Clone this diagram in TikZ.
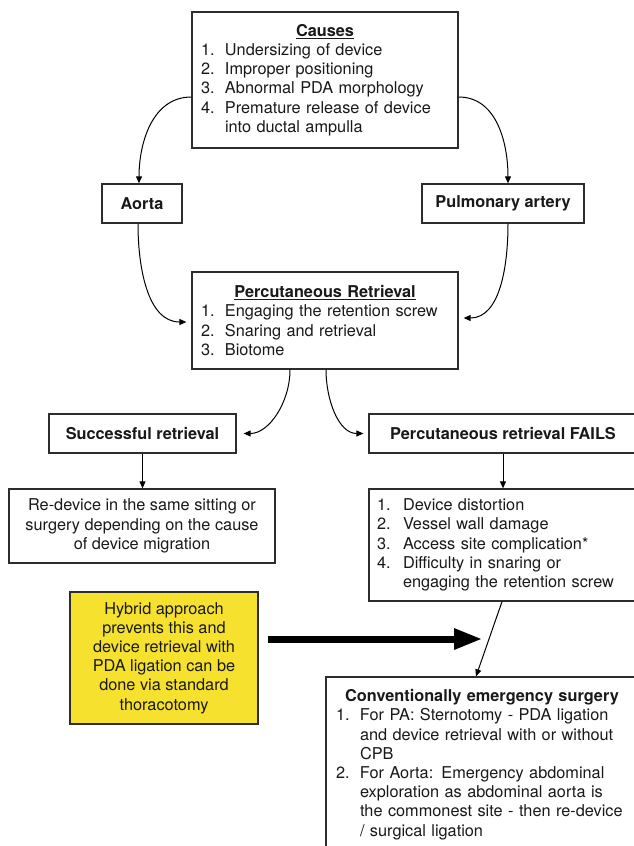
\documentclass[tikz,border=0pt]{standalone}
\usepackage{fontspec}
\setmainfont{TeX Gyre Heros}
\usetikzlibrary{arrows.meta}
\definecolor{boxline}{RGB}{45,45,45}
\definecolor{hyb}{RGB}{246,226,46}
\definecolor{txt}{RGB}{25,25,25}
\newcommand{\itm}[3][24pt]{\makebox[#1][l]{#2.}#3}
\newcommand{\cnt}[2][24pt]{\hspace*{#1}#2}
\begin{document}
\begin{tikzpicture}[x=1pt,y=-1pt,
  every node/.style={font=\fontsize{16.3}{19.2}\selectfont, text=txt},
  box/.style={draw=boxline, line width=1.3pt, inner sep=0pt},
  conn/.style={draw=black, line width=1pt, -{Triangle[length=7pt,width=6pt]}},
  connsh/.style={conn, shorten >=5pt}]
\clip (0,0) rectangle (634,846);
\fill[white] (0,0) rectangle (634,846);

\node[box, minimum width=266pt, minimum height=136pt, text width=248pt, align=left] (causes) at (325,80)
 {\makebox[248pt]{\bfseries\underline{Causes}}\\
  \itm{1}{Undersizing of device}\\
  \itm{2}{Improper positioning}\\
  \itm{3}{Abnormal PDA morphology}\\
  \itm{4}{Premature release of device}\\
  \cnt{into ductal ampulla}};

\node[box, minimum width=80pt, minimum height=39pt, font=\fontsize{16.3}{19.2}\selectfont\bfseries] (aorta) at (142,203.5) {Aorta};
\node[box, minimum width=162pt, minimum height=39pt, font=\fontsize{16.3}{19.2}\selectfont\bfseries] (pa) at (503,203.5) {Pulmonary artery};

\node[box, minimum width=266pt, minimum height=97pt, text width=248pt, align=left] (perc) at (325,320.5)
 {\makebox[248pt]{\bfseries\underline{Percutaneous Retrieval}}\\
  \itm{1}{Engaging the retention screw}\\
  \itm{2}{Snaring and retrieval}\\
  \itm{3}{Biotome}};

\node[box, minimum width=187pt, minimum height=39pt, font=\fontsize{16.3}{19.2}\selectfont\bfseries] (succ) at (142.5,433.5) {Successful retrieval};
\node[box, minimum width=268pt, minimum height=39pt, font=\fontsize{16.3}{19.2}\selectfont\bfseries] (fails) at (503,433.5) {Percutaneous retrieval FAILS};

\node[box, minimum width=266pt, minimum height=74pt, align=center] (relist) at (142,526)
 {Re-device in the same sitting or\\
  surgery depending on the cause\\
  of device migration};

\node[box, minimum width=268pt, minimum height=112pt, text width=252pt, align=left] (failist) at (503,545)
 {\itm[26pt]{1}{Device distortion}\\
  \itm[26pt]{2}{Vessel wall damage}\\
  \itm[26pt]{3}{Access site complication*}\\
  \itm[26pt]{4}{Difficulty in snaring or}\\
  \cnt[26pt]{engaging the retention screw}};

\node[box, fill=hyb, minimum width=188pt, minimum height=132pt, align=center] (hybrid) at (164,658)
 {Hybrid approach\\
  prevents this and\\
  device retrieval with\\
  PDA ligation can be\\
  done via standard\\
  thoracotomy};

\node[box, minimum width=312pt, minimum height=175pt, text width=292pt, align=left] (conv) at (482,764.5)
 {\makebox[292pt]{\bfseries Conventionally emergency surgery}\\
  \itm{1}{For PA: Sternotomy - PDA ligation}\\
  \cnt{and device retrieval with or without}\\
  \cnt{CPB}\\
  \itm{2}{For Aorta: Emergency abdominal}\\
  \cnt{exploration as abdominal aorta is}\\
  \cnt{the commonest site - then re-device}\\
  \cnt{/ surgical ligation}};

\coordinate (tip) at (481,639);

\draw[conn] ([yshift=-17pt]causes.west) to[out=180,in=90] ([xshift=-3pt]aorta.north);
\draw[conn] ([yshift=-17pt]causes.east) to[out=0,in=90] ([xshift=5pt]pa.north);
\draw[connsh] ([xshift=-4pt]aorta.south) to[out=-90,in=180] ([yshift=-1.5pt]perc.west);
\draw[connsh] ([xshift=5pt]pa.south) to[out=-90,in=0] ([yshift=2.5pt]perc.east);
\draw[connsh, shorten >=7pt] ([xshift=-35pt]perc.south) to[out=-90,in=0] (succ.east);
\draw[connsh] ([xshift=1pt]perc.south) to[out=-90,in=180] (fails.west);
\draw[conn] (succ.south) -- (succ.south |- relist.north);
\draw[conn] (fails.south) -- (failist.north);
\draw[conn] ([xshift=-1pt]failist.south) -- ([xshift=-6pt]conv.north);
\draw[line width=7pt, -{Triangle[length=27pt,width=22pt,line width=0pt]}] ([xshift=9pt,yshift=19pt]hybrid.east) -- (tip);
\end{tikzpicture}
\end{document}
